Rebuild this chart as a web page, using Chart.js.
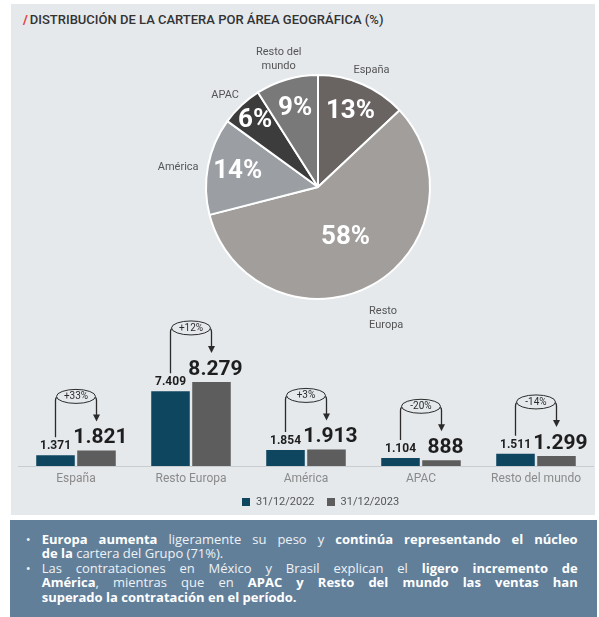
<!DOCTYPE html>
<html>
<head>
<meta charset="utf-8">
<script src="https://cdn.jsdelivr.net/npm/chart.js@4/dist/chart.umd.min.js"></script>
<style>
  body { margin: 0; background: #fff; font-family: Roboto, sans-serif; }
  #panel { position: absolute; left: 11px; top: 4px; width: 584px; height: 511px; background: #e5e9ec; }
  #title { position: absolute; left: 23px; top: 12px; font-size: 13px; font-weight: 500; color: #333; white-space: nowrap; }
  #title span { color: #e0393a; font-weight: 700; margin-right: 2px; }
  #pie { position: absolute; left: 118px; top: 22px; }
  #bars { position: absolute; left: 0; top: 300px; }
  #legend { position: absolute; left: 242px; top: 495px; font-size: 11px; color: #555; display: flex; align-items: center; }
  #legend i { display: inline-block; width: 8px; height: 8px; margin-right: 6px; }
  #legend b { font-weight: 400; margin-right: 12px; }
  #note { position: absolute; left: 10px; top: 520px; width: 587px; height: 97px; background: #627f9a; color: #eef2f5;
          font-family: "Open Sans", sans-serif; font-size: 13px; line-height: 14.6px; }
  #note .txt { position: absolute; left: 31.7px; top: 11.7px; width: 536px; }
  #note .ln { text-align: justify; text-align-last: justify; white-space: nowrap; }
  #note .ln.end { text-align-last: left; }
  #note .dot { position: absolute; left: -16px; }
  #note b { font-weight: 700; color: #fff; }
</style>
</head>
<body>
<div id="panel"></div>
<div id="title"><span>/</span>DISTRIBUCIÓN DE LA CARTERA POR ÁREA GEOGRÁFICA (%)</div>
<canvas id="pie" width="400" height="330"></canvas>
<canvas id="bars" width="599" height="196"></canvas>
<div id="legend"></div>
<div id="note">
  <div class="txt">
    <div class="ln" style="position:relative; white-space:normal"><span class="dot">•</span><b>Europa aumenta</b> ligeramente su peso y <b>continúa representando el núcleo</b></div>
    <div class="ln end"><b>de la</b> cartera del Grupo (71%).</div>
    <div class="ln" style="position:relative; white-space:normal"><span class="dot">•</span>Las contrataciones en México y Brasil explican el <b>ligero incremento de</b></div>
    <div class="ln" style="white-space:normal"><b>América</b>, mientras que en <b>APAC y Resto del mundo las ventas han</b></div>
    <div class="ln end"><b>superado la contratación en el período.</b></div>
  </div>
</div>

<script>
// pie: share of portfolio by area (%)
const pieLabels = [["España"], ["Resto", "Europa"], ["América"], ["APAC"], ["Resto del", "mundo"]];
const pieShares = [13, 58, 14, 6, 9];
const pieColors = ["#696462", "#a19e9c", "#9b9fa4", "#3d3c3c", "#7a7979"];

// bars: portfolio by area, 2022 vs 2023
const barCategories = ["España", "Resto Europa", "América", "APAC", "Resto del mundo"];
const series2022 = [1371, 7409, 1854, 1104, 1511];
const series2023 = [1821, 8279, 1913, 888, 1299];
const seriesNames = ["31/12/2022", "31/12/2023"];
const seriesColors = ["#0e4660", "#5d5d5d"];

Chart.defaults.font.family = "Roboto";

function fmt(v) {
    return String(v).replace(/\B(?=(\d{3})+(?!\d))/g, ".");
}

const pieText = {
    id: "pieText",
    afterDatasetsDraw(chart) {
        const ctx = chart.ctx;
        const arcs = chart.getDatasetMeta(0).data;
        ctx.save();
        arcs.forEach((arc, i) => {
            const p = arc.getProps(["x", "y", "startAngle", "endAngle", "outerRadius"], true);
            const mid = (p.startAngle + p.endAngle) / 2;
            const dx = Math.cos(mid), dy = Math.sin(mid);
            const share = pieShares[i];

            // value inside the slice
            const f = share > 50 ? 0.51 : (share < 8 ? 0.82 : 0.73);
            ctx.fillStyle = "#fff";
            ctx.font = "bold 26px Roboto";
            ctx.textAlign = "center";
            ctx.textBaseline = "middle";
            ctx.fillText(share + "%", p.x + dx * p.outerRadius * f, p.y + dy * p.outerRadius * f);

            // name outside, pushed out by its own half size
            const lines = pieLabels[i];
            ctx.font = "11px Roboto";
            const w = Math.max(...lines.map(l => ctx.measureText(l).width));
            const lh = 14;
            const h = lines.length * lh;
            const d = p.outerRadius + 9 + Math.abs(dx) * w / 2 + Math.abs(dy) * h / 2;
            const ax = p.x + dx * d;
            const ay = p.y + dy * d + 7;
            ctx.fillStyle = "#555";
            let align = "center", tx = ax;
            if (dx > 0.3) { align = "left"; tx = ax - w / 2; }
            else if (dx < -0.3) { align = "right"; tx = ax + w / 2; }
            ctx.textAlign = align;
            lines.forEach((l, k) => {
                ctx.fillText(l, tx, ay - h / 2 + lh / 2 + k * lh);
            });
        });
        ctx.restore();
    }
};

new Chart(document.getElementById("pie"), {
    type: "pie",
    data: {
        labels: pieLabels.map(l => l.join(" ")),
        datasets: [{
            data: pieShares,
            backgroundColor: pieColors,
            borderColor: "#ffffff",
            borderWidth: 2
        }]
    },
    options: {
        responsive: false,
        animation: false,
        layout: { padding: { left: 87, right: 87, top: 52, bottom: 52 } },
        plugins: { legend: { display: false }, tooltip: { enabled: false } }
    },
    plugins: [pieText]
});

const barText = {
    id: "barText",
    afterDatasetsDraw(chart) {
        const ctx = chart.ctx;
        const m0 = chart.getDatasetMeta(0).data;
        const m1 = chart.getDatasetMeta(1).data;
        ctx.save();
        barCategories.forEach((c, i) => {
            const b0 = m0[i], b1 = m1[i];
            const v0 = series2022[i], v1 = series2023[i];

            ctx.fillStyle = "#1e1e1e";
            ctx.textAlign = "center";
            ctx.textBaseline = "alphabetic";
            ctx.font = "bold 12px Roboto";
            ctx.fillText(fmt(v0), b0.x, b0.y - 6);
            ctx.font = "bold 21px Roboto";
            ctx.fillText(fmt(v1), b1.x + 4, b1.y - 7);

            const smallTop = b0.y - 6 - 9;
            const bigTop = b1.y - 7 - 15;
            const yE = Math.min(smallTop, bigTop) - 32;
            const tip = bigTop - 7;

            ctx.strokeStyle = "#2b2b2b";
            ctx.lineWidth = 1.3;
            ctx.beginPath();
            ctx.moveTo(b0.x, smallTop - 3);
            ctx.lineTo(b0.x, yE + 4);
            ctx.quadraticCurveTo(b0.x, yE, b0.x + 4, yE);
            ctx.moveTo(b1.x - 4, yE);
            ctx.quadraticCurveTo(b1.x, yE, b1.x, yE + 4);
            ctx.lineTo(b1.x, tip - 6);
            ctx.stroke();

            ctx.fillStyle = "#2b2b2b";
            ctx.beginPath();
            ctx.moveTo(b1.x - 3.5, tip - 7);
            ctx.lineTo(b1.x + 3.5, tip - 7);
            ctx.lineTo(b1.x, tip);
            ctx.closePath();
            ctx.fill();

            const cx = (b0.x + b1.x) / 2;
            const rx = (b1.x - b0.x) / 2 - 1;
            ctx.fillStyle = "#e5e9ec";
            ctx.beginPath();
            ctx.ellipse(cx, yE, rx, 7, 0, 0, Math.PI * 2);
            ctx.fill();
            ctx.lineWidth = 1;
            ctx.stroke();

            const pct = Math.round((v1 / v0 - 1) * 100);
            ctx.fillStyle = "#2b2b2b";
            ctx.font = "10px Roboto";
            ctx.textBaseline = "middle";
            ctx.fillText((pct > 0 ? "+" : "") + pct + "%", cx, yE + 0.5);
        });
        ctx.restore();
    }
};

new Chart(document.getElementById("bars"), {
    type: "bar",
    data: {
        labels: barCategories,
        datasets: [
            { label: seriesNames[0], data: series2022, backgroundColor: seriesColors[0] },
            { label: seriesNames[1], data: series2023, backgroundColor: seriesColors[1] }
        ]
    },
    options: {
        responsive: false,
        animation: false,
        categoryPercentage: 0.713,
        barPercentage: 0.94,
        layout: { padding: { left: 18.5, right: 5.5, top: 42.5, bottom: 0 } },
        scales: {
            x: {
                grid: { display: false, drawTicks: false },
                border: { display: true, color: "#c8cdd1", width: 1 },
                ticks: { color: "#8a8a8a", font: { size: 12 }, padding: 6 },
                afterFit: axis => { axis.height = 30; }
            },
            y: { display: false, min: 350, max: 12000 }
        },
        plugins: { legend: { display: false }, tooltip: { enabled: false } }
    },
    plugins: [barText]
});

const legend = document.getElementById("legend");
seriesNames.forEach((n, i) => {
    legend.innerHTML += '<i style="background:' + seriesColors[i] + '"></i><b>' + n + '</b>';
});
</script>
</body>
</html>
